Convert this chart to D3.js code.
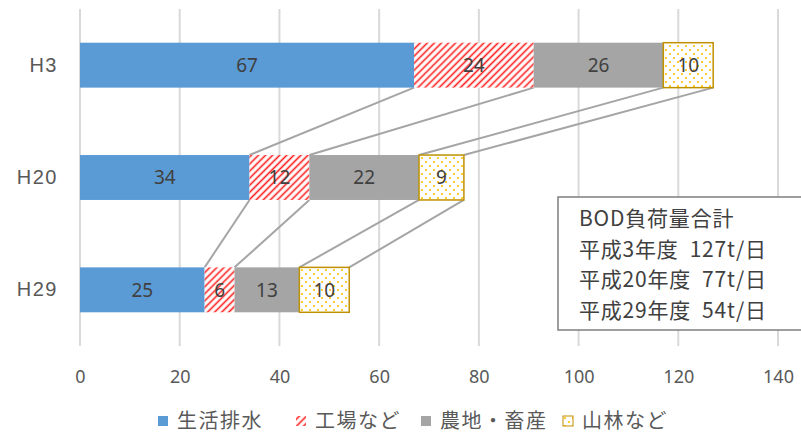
<!DOCTYPE html>
<html>
<head>
<meta charset="utf-8">
<script src="https://cdn.jsdelivr.net/npm/d3@7"></script>
<style>
  body { margin: 0; background: #fff; }
  svg { display: block; font-family: "Noto Sans CJK JP", "Noto Sans", sans-serif; }
</style>
</head>
<body>
<div id="chart"></div>
<script>
// data
const years = ["H3", "H20", "H29"];
const sources = ["生活排水", "工場など", "農地・畜産", "山林など"];
const domestic = [67, 34, 25];
const factory = [24, 12, 6];
const farm = [26, 22, 13];
const forest = [10, 9, 10];
const xTicks = [0, 20, 40, 60, 80, 100, 120, 140];
const noteLines = ["BOD負荷量合計", "平成3年度  127t/日", "平成20年度  77t/日", "平成29年度  54t/日"];

const width = 801, height = 438;
const margin = {left: 80, right: 23, top: 9, bottom: 92};

const svg = d3.select("#chart").append("svg")
    .attr("width", width)
    .attr("height", height);

// patterns for the hatched and dotted segments
const defs = svg.append("defs");
const hatch = defs.append("pattern")
    .attr("id", "hatch")
    .attr("patternUnits", "userSpaceOnUse")
    .attr("width", 5).attr("height", 5)
    .attr("patternTransform", "rotate(45)");
hatch.append("rect").attr("width", 5).attr("height", 5).attr("fill", "#fff");
hatch.append("line")
    .attr("x1", 2.5).attr("y1", 0).attr("x2", 2.5).attr("y2", 5)
    .attr("stroke", "#ff1a1a").attr("stroke-width", 1.6);

const dots = defs.append("pattern")
    .attr("id", "dots")
    .attr("patternUnits", "userSpaceOnUse")
    .attr("width", 8).attr("height", 8);
dots.append("rect").attr("width", 8).attr("height", 8).attr("fill", "#fff");
dots.append("circle").attr("cx", 2).attr("cy", 2).attr("r", 1.1).attr("fill", "#ffc000");
dots.append("circle").attr("cx", 6).attr("cy", 6).attr("r", 1.1).attr("fill", "#ffc000");

const fills = ["#5b9bd5", "url(#hatch)", "#a5a5a5", "url(#dots)"];
const strokes = [null, null, null, "#bf9000"];

const x = d3.scaleLinear()
    .domain([0, 140])
    .range([margin.left, width - margin.right]);

const y = d3.scaleBand()
    .domain(years)
    .range([margin.top, height - margin.bottom])
    .paddingInner(0.6)
    .paddingOuter(0.3);

// gridlines
svg.append("g")
    .selectAll("line")
    .data(xTicks)
    .join("line")
    .attr("x1", d => x(d)).attr("x2", d => x(d))
    .attr("y1", margin.top).attr("y2", height - margin.bottom)
    .attr("stroke", "#d9d9d9")
    .attr("stroke-width", 2);

// x axis labels
const xAxis = svg.append("g")
    .attr("transform", `translate(0,${height - margin.bottom})`)
    .call(d3.axisBottom(x).tickValues(xTicks).tickSize(0).tickPadding(24));
xAxis.select(".domain").remove();
xAxis.selectAll("text")
    .attr("fill", "#595959")
    .attr("font-size", 18)
    .attr("font-family", "'Noto Sans', sans-serif");

// y axis labels
const yAxis = svg.append("g")
    .attr("transform", `translate(${margin.left},0)`)
    .call(d3.axisLeft(y).tickSize(0).tickPadding(22));
yAxis.select(".domain").remove();
yAxis.selectAll("text")
    .attr("fill", "#595959")
    .attr("font-size", 20)
    .attr("letter-spacing", 1.5)
    .attr("font-family", "'Liberation Sans', sans-serif");

const series = [domestic, factory, farm, forest];
const rows = years.map((yr, i) => {
    const row = {year: yr};
    sources.forEach((s, j) => row[s] = series[j][i]);
    return row;
});
const stacked = d3.stack().keys(sources)(rows);

// connector lines between bars
const connectors = [];
stacked.forEach(layer => {
    for (let i = 0; i < years.length - 1; i++) {
        connectors.push({
            x1: x(layer[i][1]), y1: y(years[i]) + y.bandwidth(),
            x2: x(layer[i + 1][1]), y2: y(years[i + 1])
        });
    }
});
svg.append("g")
    .selectAll("line")
    .data(connectors)
    .join("line")
    .attr("x1", d => d.x1).attr("y1", d => d.y1)
    .attr("x2", d => d.x2).attr("y2", d => d.y2)
    .attr("stroke", "#a5a5a5")
    .attr("stroke-width", 2);

// bars
const layers = svg.append("g")
    .selectAll("g")
    .data(stacked)
    .join("g");

layers.selectAll("rect")
    .data((d, j) => d.map(v => ({v, j})))
    .join("rect")
    .attr("x", d => x(d.v[0]))
    .attr("y", (d, i) => y(years[i]))
    .attr("width", d => x(d.v[1]) - x(d.v[0]))
    .attr("height", y.bandwidth())
    .attr("fill", d => fills[d.j])
    .attr("stroke", d => strokes[d.j])
    .attr("stroke-width", 1.5);

layers.selectAll("text")
    .data((d, j) => d.map(v => ({v, j})))
    .join("text")
    .attr("x", d => (x(d.v[0]) + x(d.v[1])) / 2)
    .attr("y", (d, i) => y(years[i]) + y.bandwidth() / 2)
    .attr("dy", "0.36em")
    .attr("text-anchor", "middle")
    .attr("fill", "#404040")
    .attr("font-size", 19)
    .attr("font-family", "'Noto Sans', sans-serif")
    .text(d => d.v[1] - d.v[0]);

// note box
const note = svg.append("g");
note.append("rect")
    .attr("x", 558).attr("y", 197)
    .attr("width", 260).attr("height", 133)
    .attr("fill", "#fff")
    .attr("stroke", "#7f7f7f")
    .attr("stroke-width", 1.5);
note.selectAll("text")
    .data(noteLines)
    .join("text")
    .attr("x", 579)
    .attr("y", (d, i) => 226 + i * 30.5)
    .attr("fill", "#404040")
    .attr("font-size", 21)
    .attr("letter-spacing", 0.8)
    .attr("xml:space", "preserve")
    .text(d => d);

// legend
const legendX = [158, 296, 421, 563];
const legend = svg.append("g")
    .selectAll("g")
    .data(sources)
    .join("g")
    .attr("transform", (d, i) => `translate(${legendX[i]},416)`);
legend.append("rect")
    .attr("width", 10).attr("height", 10)
    .attr("fill", (d, i) => fills[i])
    .attr("stroke", (d, i) => strokes[i])
    .attr("stroke-width", 1);
legend.append("text")
    .attr("x", 19).attr("y", 5)
    .attr("dy", "0.36em")
    .attr("fill", "#595959")
    .attr("font-size", 20)
    .attr("letter-spacing", 1.5)
    .text(d => d);
</script>
</body>
</html>
